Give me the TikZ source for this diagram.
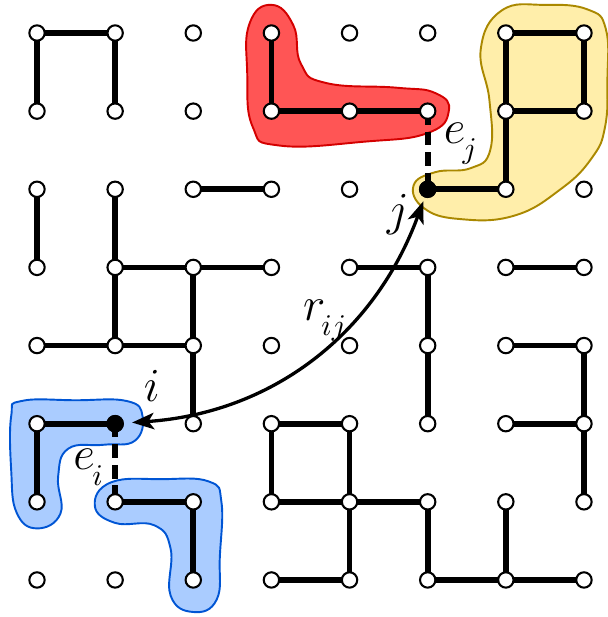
\documentclass[tikz,border=0pt]{standalone}
\usepackage{tikz}
\usetikzlibrary{arrows.meta}
\definecolor{RedFill}{HTML}{FF5555}
\definecolor{RedLine}{HTML}{D40000}
\definecolor{GoldFill}{HTML}{FFEEAA}
\definecolor{GoldLine}{HTML}{AA8800}
\definecolor{BlueFill}{HTML}{AACCFF}
\definecolor{BlueLine}{HTML}{0055D4}
\newcommand{\lowsub}[1]{_{\kern-1pt\lower3pt\hbox{$\scriptstyle #1$}}}
\tikzset{site/.style={circle,draw=black,fill=white,line width=.75pt,minimum size=5.6pt,inner sep=0pt},seed/.style={site,fill=black},bond/.style={line width=2.1pt},gap/.style={bond,dash pattern=on 5pt off 2.5pt},blob/.style={line width=.7pt},link/.style={{Stealth[length=8pt,width=6pt,inset=2pt]}-{Stealth[length=8pt,width=6pt,inset=2pt]},line width=1.2pt,shorten <=3pt,shorten >=1.5pt},lbl/.style={font=\fontsize{16}{19}\selectfont,inner sep=0pt,anchor=base west}}

\begin{document}
\begin{tikzpicture}
      \useasboundingbox (-0.4735,0.4223) rectangle (7.307,-7.474);
      % clusters
      \filldraw[blob,fill=RedFill,draw=RedLine] plot[smooth cycle,tension=.8] coordinates{(3.0,0.36)(2.72,0.12)(2.69,-0.5)(2.76,-1.2)(3.1,-1.44)(4.2,-1.39)(5.0,-1.28)(5.27,-1.0)(5.1,-0.77)(4.6,-0.7)(3.7,-0.64)(3.38,-0.4)(3.28,0.1)};
      \filldraw[blob,fill=GoldFill,draw=GoldLine] plot[smooth cycle,tension=.75] coordinates{(5.95,0.29)(6.5,0.36)(7.05,0.3)(7.28,0.05)(7.30,-0.6)(7.27,-1.2)(7.1,-1.6)(6.7,-2.0)(6.1,-2.34)(5.4,-2.38)(4.95,-2.24)(4.82,-1.95)(5.1,-1.78)(5.55,-1.73)(5.8,-1.5)(5.79,-0.86)(5.68,-0.2)};
      \filldraw[blob,fill=BlueFill,draw=BlueLine] plot[smooth cycle,tension=.75] coordinates{(-0.2,-4.71)(0.5,-4.70)(1.15,-4.71)(1.35,-4.9)(1.25,-5.22)(0.85,-5.27)(0.4,-5.32)(0.27,-5.68)(0.30,-6.15)(0.0,-6.34)(-0.26,-6.14)(-0.33,-5.6)(-0.33,-4.9)};
      \filldraw[blob,fill=BlueFill,draw=BlueLine] plot[smooth cycle,tension=.75] coordinates{(0.95,-5.75)(1.6,-5.71)(2.2,-5.74)(2.36,-6.0)(2.34,-6.7)(2.30,-7.25)(2.0,-7.41)(1.71,-7.2)(1.71,-6.6)(1.5,-6.30)(1.0,-6.27)(0.74,-6.05)};
      % lattice sites
      \foreach \x in {0,...,7}
        \foreach \y in {0,...,7}
          \coordinate (c\x\y) at (\x,-\y);
      % bonds
      \foreach \a/\b in {00/10,00/01,10/11,02/03,12/13,22/32,13/23,23/33,13/14,23/24,04/14,14/24,24/25,43/53,53/54,54/55,63/73,64/74,74/75,65/75,75/76,35/45,35/36,45/46,36/46,46/56,46/47,37/47,56/57,66/67,57/67,67/77,30/31,31/41,41/51,60/70,60/61,70/71,61/71,61/62,52/62,05/15,05/06,16/26,26/27}
        \draw[bond] (c\a)--(c\b);
      \draw[gap](c51)--(c52);\draw[gap](c15)--(c16);
      \foreach \x in {0,...,7}
        \foreach \y in {0,...,7}
          \node[site] (v\x\y) at (c\x\y) {};
      \node[seed] (i) at (c15) {};
      \node[seed] (j) at (c52) {};
      \draw[link] (i) to[bend right=33] (j);
      \node[lbl] (li) at (1.36,-4.72) {$i$};
      \node[lbl] (lj) at (4.47,-2.46) {$j$};
      \node[lbl] (lr) at (3.40,-3.68) {$r\lowsub{ij}$};
      \node[lbl] (lei) at (0.46,-5.59) {$e\lowsub{i}$};
      \node[lbl] (lej) at (5.20,-1.41) {$e\lowsub{j}$};
    \end{tikzpicture}
\end{document}
